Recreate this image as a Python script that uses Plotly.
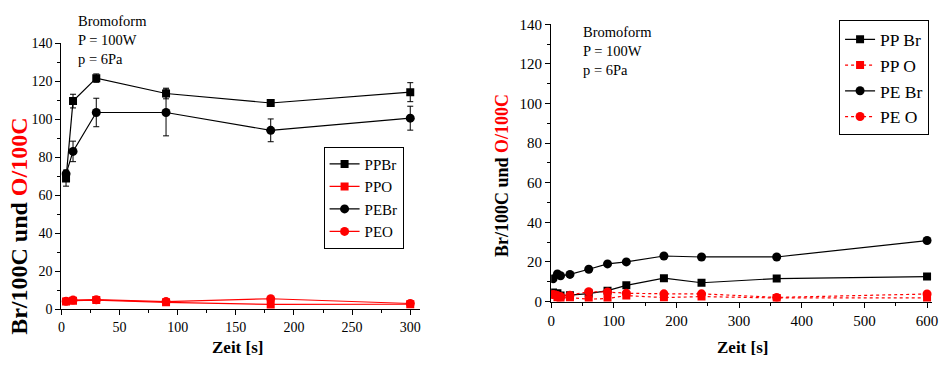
import plotly.graph_objects as go

W, H = 945, 365

# ---------------- data: left panel ----------------
left_t = [4, 10, 30, 90, 180, 300]
left_ppbr = [68.8, 109.6, 121.7, 113.6, 108.6, 114.3]
left_ppbr_err = [4.0, 3.6, 2.2, 2.8, 1.2, 5.0]
left_ppo = [4.0, 4.5, 4.8, 3.6, 2.5, 2.6]
left_pebr = [71.3, 83.1, 103.6, 103.6, 94.2, 100.6]
left_pebr_err = [2.0, 5.4, 7.5, 12.3, 6.0, 6.3]
left_peo = [4.2, 4.8, 5.0, 4.0, 5.5, 3.0]

# ---------------- data: right panel ----------------
right_t = [3, 10, 15, 30, 60, 90, 120, 180, 240, 360, 600]
right_ppbr = [4.5, 4.2, 3.0, 3.2, 4.0, 5.5, 8.2, 11.8, 9.5, 11.6, 12.6]
right_ppo = [3.5, 2.0, 1.8, 2.0, 1.2, 1.5, 3.0, 2.0, 2.5, 1.8, 1.8]
right_pebr = [11.5, 13.9, 13.0, 13.7, 16.3, 19.0, 20.0, 23.0, 22.5, 22.5, 30.8]
right_peo = [3.5, 3.0, 2.5, 3.2, 5.0, 4.8, 4.2, 3.9, 3.9, 2.1, 3.8]

info_text = "Bromoform<br>P = 100W<br>p = 6Pa"
ytitle = "<b>Br/100C und <span style='color:#ff0000'>O/100C</span></b>"
xtitle = "<b>Zeit [s]</b>"

FONT = "Liberation Serif"
RED = "#ff0000"

fig = go.Figure()

# left traces
fig.add_trace(go.Scatter(x=left_t, y=left_ppbr, name="PPBr", mode="lines+markers",
                         line=dict(color="black", width=1.2),
                         marker=dict(symbol="square", size=8, color="black"),
                         error_y=dict(type="data", array=left_ppbr_err, color="black", thickness=1, width=3),
                         xaxis="x", yaxis="y", legend="legend"))
fig.add_trace(go.Scatter(x=left_t, y=left_ppo, name="PPO", mode="lines+markers",
                         line=dict(color=RED, width=1.2),
                         marker=dict(symbol="square", size=8, color=RED),
                         xaxis="x", yaxis="y", legend="legend"))
fig.add_trace(go.Scatter(x=left_t, y=left_pebr, name="PEBr", mode="lines+markers",
                         line=dict(color="black", width=1.2),
                         marker=dict(symbol="circle", size=9, color="black"),
                         error_y=dict(type="data", array=left_pebr_err, color="black", thickness=1, width=3),
                         xaxis="x", yaxis="y", legend="legend"))
fig.add_trace(go.Scatter(x=left_t, y=left_peo, name="PEO", mode="lines+markers",
                         line=dict(color=RED, width=1.2),
                         marker=dict(symbol="circle", size=9, color=RED),
                         xaxis="x", yaxis="y", legend="legend"))

# right traces
fig.add_trace(go.Scatter(x=right_t, y=right_ppbr, name="PP Br", mode="lines+markers",
                         line=dict(color="black", width=1.2),
                         marker=dict(symbol="square", size=8, color="black"),
                         xaxis="x2", yaxis="y2", legend="legend2"))
fig.add_trace(go.Scatter(x=right_t, y=right_ppo, name="PP O", mode="lines+markers",
                         line=dict(color=RED, width=1.2, dash="dot"),
                         marker=dict(symbol="square", size=8, color=RED),
                         xaxis="x2", yaxis="y2", legend="legend2"))
fig.add_trace(go.Scatter(x=right_t, y=right_pebr, name="PE Br", mode="lines+markers",
                         line=dict(color="black", width=1.2),
                         marker=dict(symbol="circle", size=9, color="black"),
                         xaxis="x2", yaxis="y2", legend="legend2"))
fig.add_trace(go.Scatter(x=right_t, y=right_peo, name="PE O", mode="lines+markers",
                         line=dict(color=RED, width=1.2, dash="dot"),
                         marker=dict(symbol="circle", size=9, color=RED),
                         xaxis="x2", yaxis="y2", legend="legend2"))


def px(x):
    return x / W


def py(y):
    return (H - y) / H


def axis_common(fs):
    return dict(showline=True, linecolor="black", linewidth=1.2, mirror=False,
                ticks="outside", ticklen=5, tickwidth=1, tickcolor="black",
                showgrid=False, zeroline=False,
                tickfont=dict(family=FONT, size=fs, color="black"))


xa = axis_common(14)
xa.update(domain=[px(58), px(420)], range=[0, 308], dtick=50, tick0=0, anchor="y",
          minor=dict(ticks="outside", ticklen=3, dtick=25, tickcolor="black", tickwidth=1))
ya = axis_common(14)
ya.update(domain=[py(315), py(37)], range=[0, 140], dtick=20, tick0=0, anchor="x",
          minor=dict(ticks="outside", ticklen=3, dtick=10, tickcolor="black", tickwidth=1))
xa2 = axis_common(15)
xa2.update(domain=[px(553), px(938)], range=[0, 608], dtick=100, tick0=0, anchor="y2",
           minor=dict(ticks="outside", ticklen=3, dtick=50, tickcolor="black", tickwidth=1))
ya2 = axis_common(15)
ya2.update(domain=[py(307), py(17)], range=[0, 140], dtick=20, tick0=0, anchor="x2",
           minor=dict(ticks="outside", ticklen=3, dtick=10, tickcolor="black", tickwidth=1))

annotations = [
    dict(text=info_text, x=px(73), y=py(33), xref="paper", yref="paper",
         xanchor="left", yanchor="middle", align="left", showarrow=False,
         font=dict(family=FONT, size=14.5, color="black")),
    dict(text=info_text, x=px(583), y=py(45), xref="paper", yref="paper",
         xanchor="left", yanchor="middle", align="left", showarrow=False,
         font=dict(family=FONT, size=14.5, color="black")),
    dict(text=ytitle, x=px(15), y=py(228), xref="paper", yref="paper",
         xanchor="center", yanchor="middle", textangle=-90, showarrow=False,
         font=dict(family=FONT, size=24, color="black")),
    dict(text=ytitle, x=px(504), y=py(175), xref="paper", yref="paper",
         xanchor="center", yanchor="middle", textangle=-90, showarrow=False,
         font=dict(family=FONT, size=18, color="black")),
    dict(text=xtitle, x=px(236), y=py(355), xref="paper", yref="paper",
         xanchor="center", yanchor="middle", showarrow=False,
         font=dict(family=FONT, size=17, color="black")),
    dict(text=xtitle, x=px(746), y=py(355), xref="paper", yref="paper",
         xanchor="center", yanchor="middle", showarrow=False,
         font=dict(family=FONT, size=17, color="black")),
]

fig.update_layout(
    width=W, height=H, autosize=False,
    margin=dict(l=0, r=0, t=0, b=0),
    font=dict(family=FONT, color="black"),
    paper_bgcolor="white", plot_bgcolor="white",
    xaxis=xa, yaxis=ya, xaxis2=xa2, yaxis2=ya2,
    annotations=annotations,
    legend=dict(x=px(323), y=py(145), xanchor="left", yanchor="top",
                bordercolor="black", borderwidth=1, bgcolor="white",
                font=dict(family=FONT, size=15, color="black"),
                tracegroupgap=0, itemwidth=30),
    legend2=dict(x=px(844), y=py(13), xanchor="left", yanchor="top",
                 bordercolor="black", borderwidth=1, bgcolor="white",
                 font=dict(family=FONT, size=17.5, color="black"),
                 tracegroupgap=0, itemwidth=30),
    showlegend=True,
)

fig.write_html("out.html", config={"displayModeBar": False},
               post_script="document.body.style.margin='0px';document.body.style.overflow='hidden';")
